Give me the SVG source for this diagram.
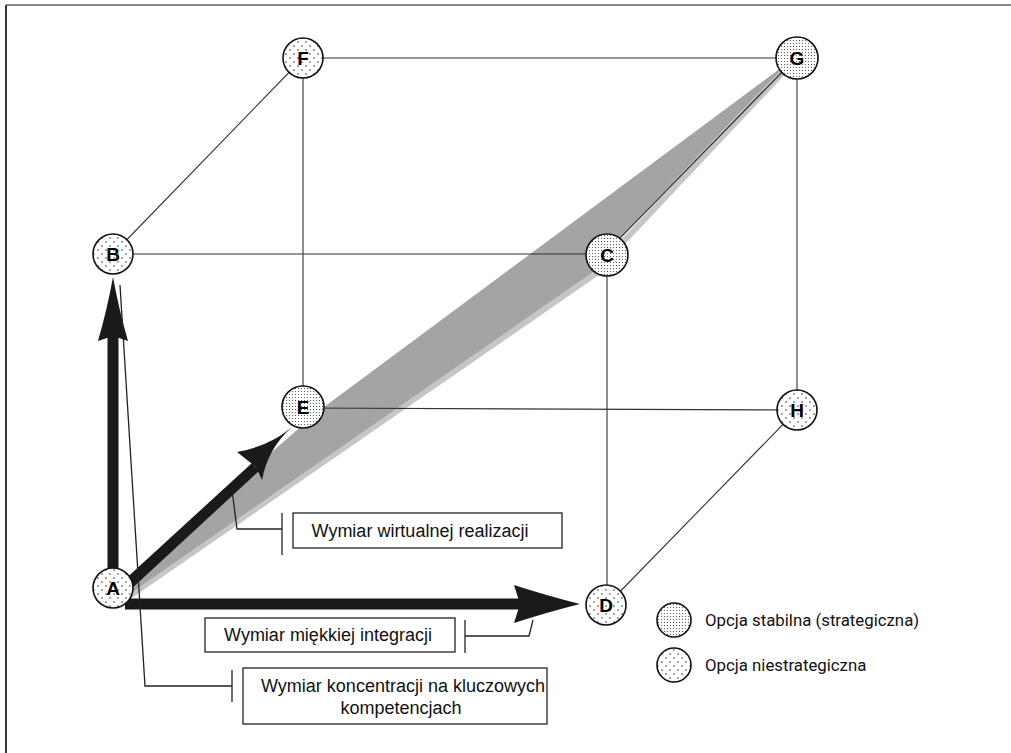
<svg xmlns="http://www.w3.org/2000/svg" width="1011" height="753" viewBox="0 0 1011 753">
<defs>
<pattern id="sparse" width="8" height="8" patternUnits="userSpaceOnUse">
<rect width="8" height="8" fill="#fff"/>
<circle cx="2" cy="2" r="0.75" fill="#222"/>
<circle cx="6" cy="6" r="0.75" fill="#222"/>
</pattern>
<pattern id="dense" width="3" height="3" patternUnits="userSpaceOnUse">
<rect width="3" height="3" fill="#fff"/>
<circle cx="1.5" cy="1.5" r="0.6" fill="#444"/>
</pattern>
<style>
.edge{stroke:#333;stroke-width:1.1;fill:none}
.thin{stroke:#222;stroke-width:1.3;fill:none}
.ns{fill:url(#sparse);stroke:#111;stroke-width:1.6}
.st{fill:url(#dense);stroke:#111;stroke-width:1.6}
.nl{font-family:"Liberation Sans",Arial,sans-serif;font-weight:bold;font-size:19px;text-anchor:middle;fill:#000}
.lbl{font-family:"Liberation Sans",Arial,sans-serif;font-size:18px;text-anchor:middle;fill:#111}
.leg{font-family:Roboto,"Liberation Sans",sans-serif;font-size:16.8px;fill:#111}
.box{fill:#fff;stroke:#222;stroke-width:1.3}
.arrow{fill:#1a1a1a}
</style>
</defs>
<g id="frame">
<line x1="6" y1="5" x2="1011" y2="5" stroke="#8a8a8a" stroke-width="2"/>
<line x1="6" y1="5" x2="6" y2="753" stroke="#222" stroke-width="1.8"/>
</g>
<g id="band">
<polyline points="128,597 598,272 624,241 788,67" fill="none" stroke="#c6c6c6" stroke-width="6"/>
<polygon points="118,586 320,410 789,62 620,237 596,270 128,595" fill="#a4a4a5"/>
<line x1="620" y1="238" x2="786" y2="68" stroke="#333" stroke-width="1.3"/>
</g>
<g id="connectors">
<line class="edge" x1="303" y1="58" x2="797" y2="58"/>
<line class="edge" x1="303" y1="58" x2="113" y2="254"/>
<line class="edge" x1="303" y1="58" x2="303" y2="408"/>
<line class="edge" x1="797" y1="58" x2="797" y2="410"/>
<line class="edge" x1="113" y1="254" x2="607" y2="254"/>
<line class="edge" x1="607" y1="254" x2="607" y2="605"/>
<line class="edge" x1="303" y1="408" x2="797" y2="410"/>
<line class="edge" x1="797" y1="410" x2="607" y2="605"/>
<rect class="arrow" x="107.5" y="330" width="11" height="245"/>
<path class="arrow" d="M113,277 Q119,310 128,341 L113,336 L98,341 Q107,310 113,277 Z"/>
<rect class="arrow" x="125" y="598.5" width="395" height="11"/>
<path class="arrow" d="M580,604 Q548,612 514,623 L520,604 L514,585 Q548,596 580,604 Z"/>
<path class="arrow" d="M121,583 L252,463 L259,471 L129,591 Z"/>
<path class="arrow" d="M292,427 Q268,448 262,480 L256,467 L237,452 Q270,446 292,427 Z"/>
<polyline class="thin" points="232,490 237,529 282,529"/>
<line class="thin" x1="282" y1="513" x2="282" y2="555"/>
<polyline class="thin" points="533,620 529,636 465,636"/>
<line class="thin" x1="465" y1="620" x2="465" y2="653"/>
<polyline class="thin" points="120,285 145,686 232,686"/>
<line class="thin" x1="232" y1="670" x2="232" y2="702"/>
</g>
<g id="label-virtual">
<rect class="box" x="293" y="513" width="269" height="35"/>
<text class="lbl" x="420" y="537">Wymiar wirtualnej realizacji</text>
</g>
<g id="label-soft">
<rect class="box" x="205" y="618" width="250" height="34"/>
<text class="lbl" x="328" y="641">Wymiar miękkiej integracji</text>
</g>
<g id="label-core">
<rect class="box" x="243" y="668" width="304" height="56"/>
<text class="lbl" x="403" y="692">Wymiar koncentracji na kluczowych</text>
<text class="lbl" x="401" y="714">kompetencjach</text>
</g>
<g id="node-A"><circle class="ns" cx="113" cy="588" r="20"/><text class="nl" x="113" y="595">A</text></g>
<g id="node-B"><circle class="ns" cx="113" cy="254" r="20"/><text class="nl" x="113" y="261">B</text></g>
<g id="node-C"><circle class="st" cx="607" cy="255" r="21"/><text class="nl" x="607" y="262">C</text></g>
<g id="node-D"><circle class="ns" cx="606" cy="605" r="20"/><text class="nl" x="606" y="612">D</text></g>
<g id="node-E"><circle class="st" cx="303" cy="407" r="21"/><text class="nl" x="303" y="414">E</text></g>
<g id="node-F"><circle class="ns" cx="303" cy="58" r="20"/><text class="nl" x="303" y="65">F</text></g>
<g id="node-G"><circle class="st" cx="797" cy="58" r="21"/><text class="nl" x="797" y="65">G</text></g>
<g id="node-H"><circle class="ns" cx="797" cy="410" r="20"/><text class="nl" x="797" y="417">H</text></g>
<g id="legend">
<circle class="st" cx="674" cy="620" r="17"/>
<text class="leg" x="705" y="626">Opcja stabilna (strategiczna)</text>
<circle class="ns" cx="674" cy="665" r="17"/>
<text class="leg" x="705" y="671">Opcja niestrategiczna</text>
</g>
</svg>
